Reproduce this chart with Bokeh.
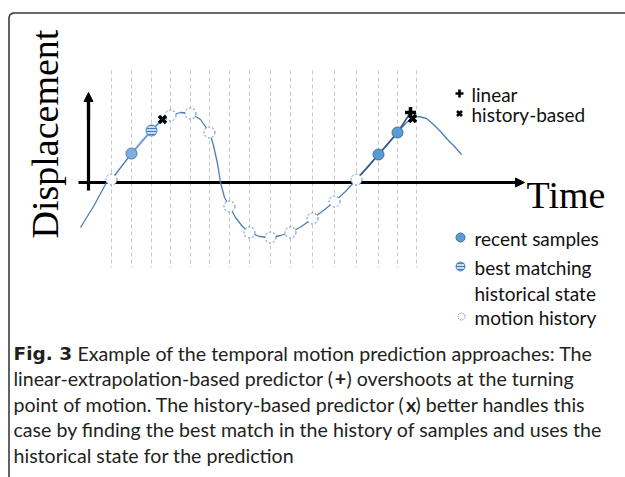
from bokeh.plotting import figure
from bokeh.models import Range1d, Label, Arrow, NormalHead
from bokeh.embed import file_html
from bokeh.resources import INLINE

# ---- data (time in ms, displacement in arbitrary units) ----
sample_t = [0, 20, 40, 59, 79, 98, 118, 138, 159, 179, 201, 223, 245, 267, 286]
sample_d = [3, 29, 52, 67, 69, 50, -24, -50, -55, -50, -36, -19, 3, 28, 50]
history_idx = [0, 3, 4, 5, 6, 7, 8, 9, 10, 11, 12]
match_solid_idx = [1]
match_hatch_idx = [2]
recent_idx = [13, 14]
grid_t = sample_t + [305]

curve_t = [-31, -18, -5, 0, 10, 20, 30, 40, 49, 59, 69, 79, 89, 98, 102, 106, 109,
           113, 118, 124, 131, 138, 148, 159, 169, 179, 190, 201, 212, 223, 234,
           245, 256, 267, 277, 286, 294, 300, 307, 315, 322, 329, 336, 343, 350]
curve_d = [-45, -24, 0, 3, 16, 29, 41, 52, 62, 67, 70, 69, 63, 50, 37, 19, 0,
           -15, -24, -35, -44, -50, -54, -55, -53, -50, -44, -36, -28, -19, -9,
           3, 15, 28, 39, 50, 59, 64, 66, 64, 58, 51, 43, 36, 28]

linear_pred = (299, 70)
history_pred_right = (301, 64)
history_pred_left = (51, 63)

legend_labels = ["linear", "history-based", "recent samples", "best matching",
                 "historical state", "motion history"]
caption_lines = [
    "Example of the temporal motion prediction approaches: The",
    "linear-extrapolation-based predictor (",
    ") overshoots at the turning",
    "point of motion. The history-based predictor (",
    ") better handles this",
    "case by finding the best match in the history of samples and uses the",
    "historical state for the prediction",
]

# ---- figure: data origin placed at picture pixel (111, 182) ----
W, H = 625, 477
OX, OY = 111, 182
def X(px):
    return px - OX
def Y(py):
    return OY - py

p = figure(width=W, height=H, x_range=Range1d(X(0), X(W)), y_range=Range1d(Y(H), Y(0)),
           output_backend="svg", toolbar_location=None, x_axis_type=None, y_axis_type=None,
           min_border=0)
p.grid.visible = False
p.outline_line_color = None
p.background_fill_color = "white"
p.border_fill_color = "white"

# frame border (top-left rounded)
p.line([X(8.5), X(8.5), X(9.6), X(12.5), X(W)], [Y(H), Y(17), Y(14), Y(12.5), Y(12.5)],
       line_color="#3a3a3a", line_width=1.6)

# dashed vertical sample lines
p.segment(x0=grid_t, y0=[Y(70)] * len(grid_t), x1=grid_t, y1=[Y(267)] * len(grid_t),
          line_color="#c8c8c8", line_dash="4 3", line_width=1)

# axes arrows
p.line([X(78), X(516)], [0, 0], line_color="black", line_width=3.2)
p.add_layout(Arrow(end=NormalHead(size=9, fill_color="black", line_color="black", line_width=1),
                   x_start=X(500), y_start=0, x_end=X(524), y_end=0, line_width=3.2, line_color="black"))
p.line([X(88), X(88)], [Y(190), Y(100)], line_color="black", line_width=3.2)
p.add_layout(Arrow(end=NormalHead(size=9, fill_color="black", line_color="black", line_width=1),
                   x_start=X(88), y_start=Y(120), x_end=X(88), y_end=Y(92), line_width=3.2, line_color="black"))

# motion curve
p.line(curve_t, curve_d, line_color="#4a7ebb", line_width=1.3)

# extrapolation lines
p.line([sample_t[1], sample_t[2], history_pred_left[0]], [sample_d[1], sample_d[2], history_pred_left[1]],
       line_color="#9dbfe3", line_width=2.2)
p.line([sample_t[1], sample_t[2], history_pred_left[0]], [sample_d[1], sample_d[2], history_pred_left[1]],
       line_color="#4a7ebb", line_width=0.8)
p.line([sample_t[12], sample_t[13], sample_t[14], linear_pred[0]],
       [sample_d[12], sample_d[13], sample_d[14], linear_pred[1]],
       line_color="#2e5a8c", line_width=1.6)

# samples
p.scatter([sample_t[i] for i in history_idx], [sample_d[i] for i in history_idx], size=11,
          fill_color="white", line_color="#4a7ebb", line_dash="2 2", line_width=1)
p.scatter([sample_t[i] for i in match_solid_idx], [sample_d[i] for i in match_solid_idx], size=11,
          fill_color="#7eaee0", line_color="#4a7ebb", line_width=1)
p.scatter([sample_t[i] for i in match_hatch_idx], [sample_d[i] for i in match_hatch_idx], size=11,
          fill_color="#c5dbf1", line_color="#4a7ebb", line_width=1,
          hatch_pattern="horizontal_line", hatch_color="#4a7ebb", hatch_scale=3, hatch_weight=1)
p.scatter([sample_t[i] for i in recent_idx], [sample_d[i] for i in recent_idx], size=11,
          fill_color="#5b9bd5", line_color="#41719c", line_width=1)

# predictions
p.scatter([history_pred_left[0], history_pred_right[0]], [history_pred_left[1], history_pred_right[1]],
          marker="x", size=10, line_color="black", line_width=3.5)
p.scatter([linear_pred[0]], [linear_pred[1]], marker="cross", size=11, line_color="black", line_width=3.5)

# axis titles
p.add_layout(Label(x=X(526), y=Y(194), text="Time", text_font="Liberation Serif",
                   text_font_size="38px", text_color="black", text_baseline="alphabetic"))
p.add_layout(Label(x=X(44), y=Y(238), text="Displacement", angle=90, angle_units="deg",
                   text_font="Liberation Serif", text_font_size="38px", text_color="black",
                   text_baseline="alphabetic", text_align="left"))

# legend
LF = "Lato"
LFS = "19px"
p.scatter([X(459)], [Y(93)], marker="cross", size=8, line_color="black", line_width=2.6)
p.scatter([X(459)], [Y(113)], marker="x", size=7, line_color="black", line_width=2.6)
p.scatter([X(460)], [Y(237)], size=9, fill_color="#5b9bd5", line_color="#41719c", line_width=1)
p.scatter([X(460)], [Y(266)], size=9, fill_color="#c5dbf1", line_color="#4a7ebb", line_width=1,
          hatch_pattern="horizontal_line", hatch_color="#4a7ebb", hatch_scale=3, hatch_weight=1)
p.scatter([X(461)], [Y(316)], size=7, fill_color="white", line_color="#4a7ebb", line_dash="1 1", line_width=1)
legend_pos = [(471, 93), (471, 113), (474, 237), (474, 266), (474, 292), (474, 316)]
for txt, (lx, ly) in zip(legend_labels, legend_pos):
    p.add_layout(Label(x=X(lx), y=Y(ly + 1), text=txt, text_font=LF, text_font_size=LFS,
                       text_color="#111111", text_baseline="alphabetic"))

# caption
CF = "Lato"
CFS = "19.6px"
CC = "#231f20"
base = [353, 378, 404, 429, 455]
def cap(x, y, txt, bold=False, align="left", font=CF, size=CFS):
    p.add_layout(Label(x=X(x), y=Y(y), text=txt, text_font=font, text_font_size=size, text_color=CC,
                       text_font_style="bold" if bold else "normal", text_baseline="alphabetic",
                       text_align=align))
cap(13, base[0], "Fig. 3", bold=True, font="DejaVu Sans", size="18.5px")
cap(77, base[0], caption_lines[0])
cap(13, base[1], caption_lines[1])
cap(340, base[1], "+", bold=True, align="center")
cap(346, base[1], caption_lines[2])
cap(13, base[2], caption_lines[3])
cap(410.5, base[2], "x", bold=True, align="center")
cap(415, base[2], caption_lines[4])
cap(13, base[3], caption_lines[5])
cap(13, base[4], caption_lines[6])

open("out.html", "w").write(file_html(p, INLINE))
